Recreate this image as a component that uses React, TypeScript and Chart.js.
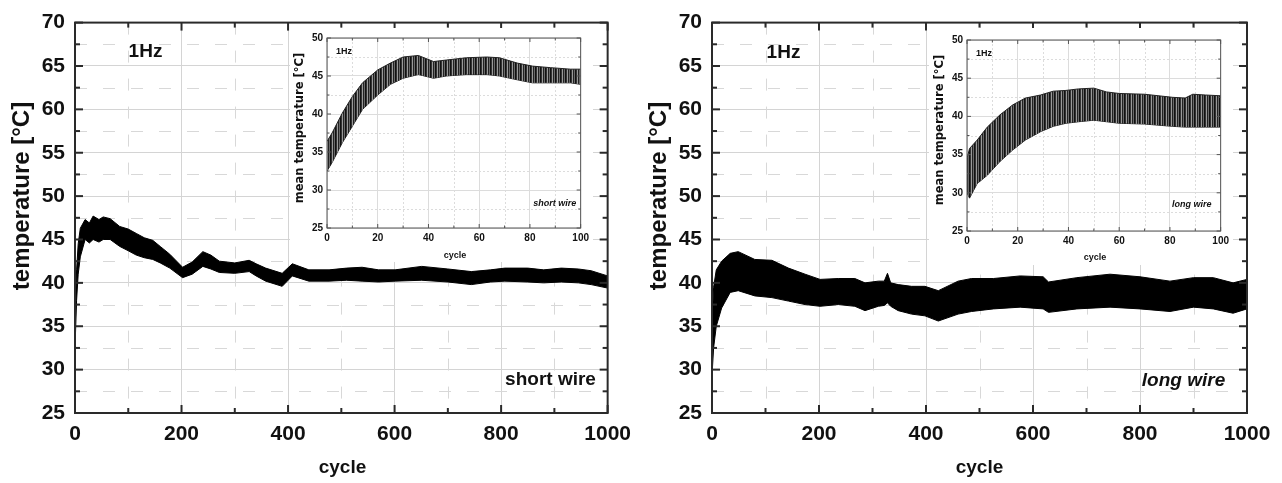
import React, { useEffect, useRef } from 'react';
import { Chart, registerables } from 'chart.js';
Chart.register(...registerables);

const FONT = '"Liberation Sans", Arial, Helvetica, sans-serif';
const FONT2 = '"DejaVu Sans", Verdana, sans-serif';

// ---- axis tick labels ----
const mainXTicks = [0, 200, 400, 600, 800, 1000];
const mainYTicks = [25, 30, 35, 40, 45, 50, 55, 60, 65, 70];
const insetXTicks = [0, 20, 40, 60, 80, 100];
const insetYTicks = [25, 30, 35, 40, 45, 50];

// ---- short wire, 1000 cycles (upper / lower envelope of the oscillation) ----
const shortCycles = [0, 3, 6, 10, 19, 27, 34, 45, 53, 66, 84, 100, 115, 130, 146, 160, 178, 202, 220, 240, 255, 271, 300, 327, 340, 358, 389, 408, 439, 477, 510, 539, 570, 601, 651, 700, 744, 780, 807, 850, 880, 913, 945, 969, 1000];
const shortUpper = [36, 41.5, 44.5, 46.3, 47.3, 46.9, 47.7, 47.3, 47.6, 47.4, 46.5, 46.2, 45.7, 45.2, 44.9, 44.2, 43.3, 41.8, 42.4, 43.6, 43.2, 42.5, 42.3, 42.6, 42.2, 41.7, 41.1, 42.2, 41.5, 41.5, 41.7, 41.8, 41.5, 41.5, 41.9, 41.6, 41.3, 41.5, 41.7, 41.7, 41.5, 41.7, 41.6, 41.4, 40.8];
const shortLower = [32.5, 38, 41, 43, 45.0, 44.6, 45.0, 44.7, 45.0, 45.0, 44.2, 43.7, 43.2, 42.9, 42.7, 42.3, 41.7, 40.6, 41.0, 41.9, 41.6, 41.2, 41.1, 41.3, 40.8, 40.2, 39.6, 40.8, 40.2, 40.2, 40.3, 40.2, 40.1, 40.2, 40.3, 40.1, 39.8, 40.1, 40.2, 40.1, 40.0, 40.1, 40.0, 39.8, 39.4];

// ---- long wire, 1000 cycles ----
const longCycles = [0, 3, 8, 18, 34, 49, 80, 112, 143, 174, 202, 236, 267, 286, 311, 322, 328, 334, 348, 373, 398, 423, 460, 485, 526, 576, 619, 629, 682, 744, 800, 856, 900, 937, 974, 1000];
const longUpper = [35, 39.5, 41.5, 42.5, 43.4, 43.6, 42.7, 42.6, 41.7, 41.0, 40.4, 40.5, 40.5, 40.0, 40.2, 40.2, 41.1, 40.0, 39.8, 39.6, 39.6, 39.1, 40.2, 40.5, 40.5, 40.8, 40.7, 40.1, 40.6, 41.0, 40.7, 40.2, 40.6, 40.6, 40.0, 40.4];
const longLower = [29.3, 32.5, 35, 37.1, 38.9, 39.1, 38.5, 38.3, 37.9, 37.5, 37.3, 37.5, 37.3, 36.8, 37.3, 37.4, 37.7, 37.3, 36.8, 36.4, 36.2, 35.6, 36.4, 36.7, 37.0, 37.2, 37.0, 36.6, 37.0, 37.2, 37.0, 36.7, 37.2, 37.0, 36.5, 37.0];

// ---- inset: short wire, first 100 cycles ----
const shortInsetCycles = [0, 2, 6, 10, 14, 20, 25, 30, 36, 42, 47, 55, 63, 68, 75, 81, 88, 96, 100];
const shortInsetUpper = [36.4, 37.5, 40.1, 42.3, 44.1, 45.8, 46.7, 47.5, 47.7, 46.9, 47.1, 47.4, 47.5, 47.4, 46.7, 46.3, 46.1, 45.9, 45.9];
const shortInsetLower = [32.5, 33.6, 36.2, 38.4, 40.6, 42.5, 43.9, 44.7, 45.2, 44.7, 45.0, 45.2, 45.2, 45.0, 44.5, 44.1, 44.1, 44.1, 43.9];

// ---- inset: long wire, first 100 cycles ----
const longInsetCycles = [0, 1, 4, 8, 13, 18, 23, 29, 34, 39, 44, 50, 55, 60, 70, 81, 86, 89, 94, 100];
const longInsetUpper = [34.5, 35.8, 36.9, 38.6, 40.2, 41.5, 42.4, 42.8, 43.3, 43.4, 43.6, 43.7, 43.2, 43.0, 42.9, 42.5, 42.4, 42.9, 42.8, 42.7];
const longInsetLower = [30.0, 29.3, 31.2, 32.3, 34.1, 35.6, 36.9, 38.0, 38.7, 39.1, 39.3, 39.5, 39.3, 39.1, 39.0, 38.7, 38.6, 38.6, 38.6, 38.6];

type Txt = { t: string; x: number; y: number; font: string; rot?: boolean };

const mids = (a: number[]) => a.slice(1).map((v, i) => (v + a[i]) / 2);

const framePlugin = {
  id: 'frameTicks',
  beforeDatasetsDraw(chart: any, _a: any, o: any) {
    const { ctx, chartArea: a, scales } = chart;
    ctx.save();
    ctx.strokeStyle = o.minorGrid;
    ctx.lineWidth = 1;
    ctx.setLineDash(o.dash);
    for (const v of mids(o.xTicks)) {
      const p = Math.round(scales.x.getPixelForValue(v)) + 0.5;
      ctx.beginPath(); ctx.moveTo(p, a.top); ctx.lineTo(p, a.bottom); ctx.stroke();
    }
    for (const v of mids(o.yTicks)) {
      const p = Math.round(scales.y.getPixelForValue(v)) + 0.5;
      ctx.beginPath(); ctx.moveTo(a.left, p); ctx.lineTo(a.right, p); ctx.stroke();
    }
    ctx.restore();
  },
  afterDatasetsDraw(chart: any, _a: any, o: any) {
    const { ctx, chartArea: a, scales } = chart;
    ctx.save();
    ctx.strokeStyle = o.frame;
    ctx.lineWidth = o.lw;
    ctx.strokeRect(a.left, a.top, a.right - a.left, a.bottom - a.top);
    const drawX = (vals: number[], len: number) => {
      for (const v of vals) {
        const p = scales.x.getPixelForValue(v);
        ctx.beginPath(); ctx.moveTo(p, a.bottom); ctx.lineTo(p, a.bottom - len); ctx.stroke();
        ctx.beginPath(); ctx.moveTo(p, a.top); ctx.lineTo(p, a.top + len); ctx.stroke();
      }
    };
    const drawY = (vals: number[], len: number) => {
      for (const v of vals) {
        const p = scales.y.getPixelForValue(v);
        ctx.beginPath(); ctx.moveTo(a.left, p); ctx.lineTo(a.left + len, p); ctx.stroke();
        ctx.beginPath(); ctx.moveTo(a.right, p); ctx.lineTo(a.right - len, p); ctx.stroke();
      }
    };
    drawX(o.xTicks, o.major); drawX(mids(o.xTicks), o.minor);
    drawY(o.yTicks, o.major); drawY(mids(o.yTicks), o.minor);
    ctx.fillStyle = '#111';
    ctx.textAlign = 'center';
    ctx.textBaseline = 'middle';
    for (const t of o.texts as Txt[]) {
      ctx.font = t.font;
      if (t.rot) {
        ctx.save();
        ctx.translate(t.x - o.ox, t.y - o.oy);
        ctx.rotate(-Math.PI / 2);
        ctx.fillText(t.t, 0, 0);
        ctx.restore();
      } else {
        ctx.fillText(t.t, t.x - o.ox, t.y - o.oy);
      }
    }
    ctx.restore();
  },
};

const pts = (xs: number[], ys: number[]) => xs.map((x, i) => ({ x, y: ys[i] }));

function stripePattern(ctx: CanvasRenderingContext2D) {
  const c = document.createElement('canvas');
  c.width = 5; c.height = 1;
  const g = c.getContext('2d')!;
  const cols = ['#111', '#333', '#9a9a9a', '#222', '#6a6a6a'];
  cols.forEach((col, i) => { g.fillStyle = col; g.fillRect(i, 0, 1, 1); });
  return ctx.createPattern(c, 'repeat');
}

type Spec = {
  left: number; top: number; width: number; height: number;
  plotLeft: number; plotTop: number; plotRight: number; plotBottom: number;
  inset: boolean;
  cycles: number[]; upper: number[]; lower: number[];
  texts: Txt[];
};

function buildConfig(s: Spec, ctx: CanvasRenderingContext2D): any {
  const xT = s.inset ? insetXTicks : mainXTicks;
  const yT = s.inset ? insetYTicks : mainYTicks;
  const fill = s.inset ? stripePattern(ctx) : '#000';
  const tickFont = s.inset
    ? { family: FONT, size: 10, weight: 'bold' as const }
    : { family: FONT, size: 21, weight: 'bold' as const };
  const fmt = (v: number | string) => String(v);
  return {
    type: 'line',
    data: {
      datasets: [
        {
          data: pts(s.cycles, s.upper),
          borderColor: s.inset ? '#222' : '#000',
          borderWidth: 1,
          backgroundColor: fill,
          fill: '+1',
          pointRadius: 0,
          tension: 0,
        },
        {
          data: pts(s.cycles, s.lower),
          borderColor: s.inset ? '#222' : '#000',
          borderWidth: 1,
          pointRadius: 0,
          fill: false,
          tension: 0,
        },
      ],
    },
    options: {
      animation: false,
      responsive: false,
      devicePixelRatio: 1,
      layout: { padding: { left: 0, top: s.plotTop, right: s.width - s.plotRight, bottom: 0 } },
      plugins: {
        legend: { display: false },
        tooltip: { enabled: false },
        frameTicks: {
          xTicks: xT, yTicks: yT,
          frame: s.inset ? '#555' : '#2a2a2a',
          lw: s.inset ? 1 : 2,
          major: s.inset ? 4 : 8,
          minor: s.inset ? 2.5 : 5,
          minorGrid: s.inset ? '#dcdcdc' : '#d8d8d8',
          dash: s.inset ? [2, 2] : [12, 16],
          texts: s.texts, ox: s.left, oy: s.top,
        },
      },
      scales: {
        x: {
          type: 'linear',
          min: xT[0], max: xT[xT.length - 1],
          afterFit: (sc: any) => { sc.height = s.height - s.plotBottom; },
          grid: { color: s.inset ? '#dcdcdc' : '#d4d4d4', drawTicks: false, lineWidth: 1 },
          border: { display: false },
          ticks: { stepSize: xT[1] - xT[0], font: tickFont, color: '#111', padding: s.inset ? 4 : 9, autoSkip: false, maxRotation: 0, callback: fmt },
        },
        y: {
          type: 'linear',
          min: yT[0], max: yT[yT.length - 1],
          afterFit: (sc: any) => { sc.width = s.plotLeft; },
          grid: { color: s.inset ? '#dcdcdc' : '#d4d4d4', drawTicks: false, lineWidth: 1 },
          border: { display: false },
          ticks: { stepSize: yT[1] - yT[0], font: tickFont, color: '#111', padding: s.inset ? 4 : 10, autoSkip: false, callback: fmt },
        },
      },
    },
    plugins: [framePlugin],
  };
}

function Panel({ spec }: { spec: Spec }) {
  const ref = useRef<HTMLCanvasElement>(null);
  useEffect(() => {
    const cv = ref.current!;
    const chart = new Chart(cv, buildConfig(spec, cv.getContext('2d')!));
    return () => chart.destroy();
  }, []);
  return (
    <canvas
      ref={ref}
      width={spec.width}
      height={spec.height}
      style={{ position: 'absolute', left: spec.left, top: spec.top, width: spec.width, height: spec.height, background: '#fff' }}
    />
  );
}

const B24 = `bold 24px ${FONT}`;
const B19 = `bold 19px ${FONT}`;
const BI19 = `italic bold 19px ${FONT}`;
const S9 = `bold 9px ${FONT}`;
const SI9 = `italic bold 9px ${FONT}`;
const T11 = `bold 11.5px ${FONT2}`;

const specs: Spec[] = [
  {
    left: 0, top: 0, width: 640, height: 483,
    plotLeft: 75, plotTop: 19, plotRight: 610, plotBottom: 413,
    inset: false, cycles: shortCycles, upper: shortUpper, lower: shortLower,
    texts: [
      { t: 'temperature [°C]', x: 22, y: 196, font: B24, rot: true },
      { t: 'cycle', x: 342.5, y: 468, font: B19 },
      { t: '1Hz', x: 145.5, y: 52, font: B19 },
      { t: 'short wire', x: 550.5, y: 380, font: B19 },
    ],
  },
  {
    left: 640, top: 0, width: 642, height: 483,
    plotLeft: 72, plotTop: 19, plotRight: 607, plotBottom: 413,
    inset: false, cycles: longCycles, upper: longUpper, lower: longLower,
    texts: [
      { t: 'temperature [°C]', x: 659, y: 196, font: B24, rot: true },
      { t: 'cycle', x: 979.5, y: 468, font: B19 },
      { t: '1Hz', x: 783.5, y: 53, font: B19 },
      { t: 'long wire', x: 1183.5, y: 381, font: BI19 },
    ],
  },
  {
    left: 290, top: 28, width: 303, height: 234,
    plotLeft: 37, plotTop: 10, plotRight: 293, plotBottom: 200,
    inset: true, cycles: shortInsetCycles, upper: shortInsetUpper, lower: shortInsetLower,
    texts: [
      { t: 'mean temperature [°C]', x: 300, y: 128, font: T11, rot: true },
      { t: 'cycle', x: 455, y: 256, font: S9 },
      { t: '1Hz', x: 344, y: 52, font: S9 },
      { t: 'short wire', x: 554.7, y: 204, font: SI9 },
    ],
  },
  {
    left: 929, top: 28, width: 304, height: 237,
    plotLeft: 38, plotTop: 12, plotRight: 294, plotBottom: 203,
    inset: true, cycles: longInsetCycles, upper: longInsetUpper, lower: longInsetLower,
    texts: [
      { t: 'mean temperature [°C]', x: 940, y: 130, font: T11, rot: true },
      { t: 'cycle', x: 1095, y: 258, font: S9 },
      { t: '1Hz', x: 984, y: 54, font: S9 },
      { t: 'long wire', x: 1191.7, y: 205, font: SI9 },
    ],
  },
];

export default function App() {
  return (
    <div style={{ position: 'fixed', left: 0, top: 0, width: 1282, height: 483, background: '#fff', overflow: 'hidden' }}>
      {specs.map((s, i) => (
        <Panel key={i} spec={s} />
      ))}
    </div>
  );
}
